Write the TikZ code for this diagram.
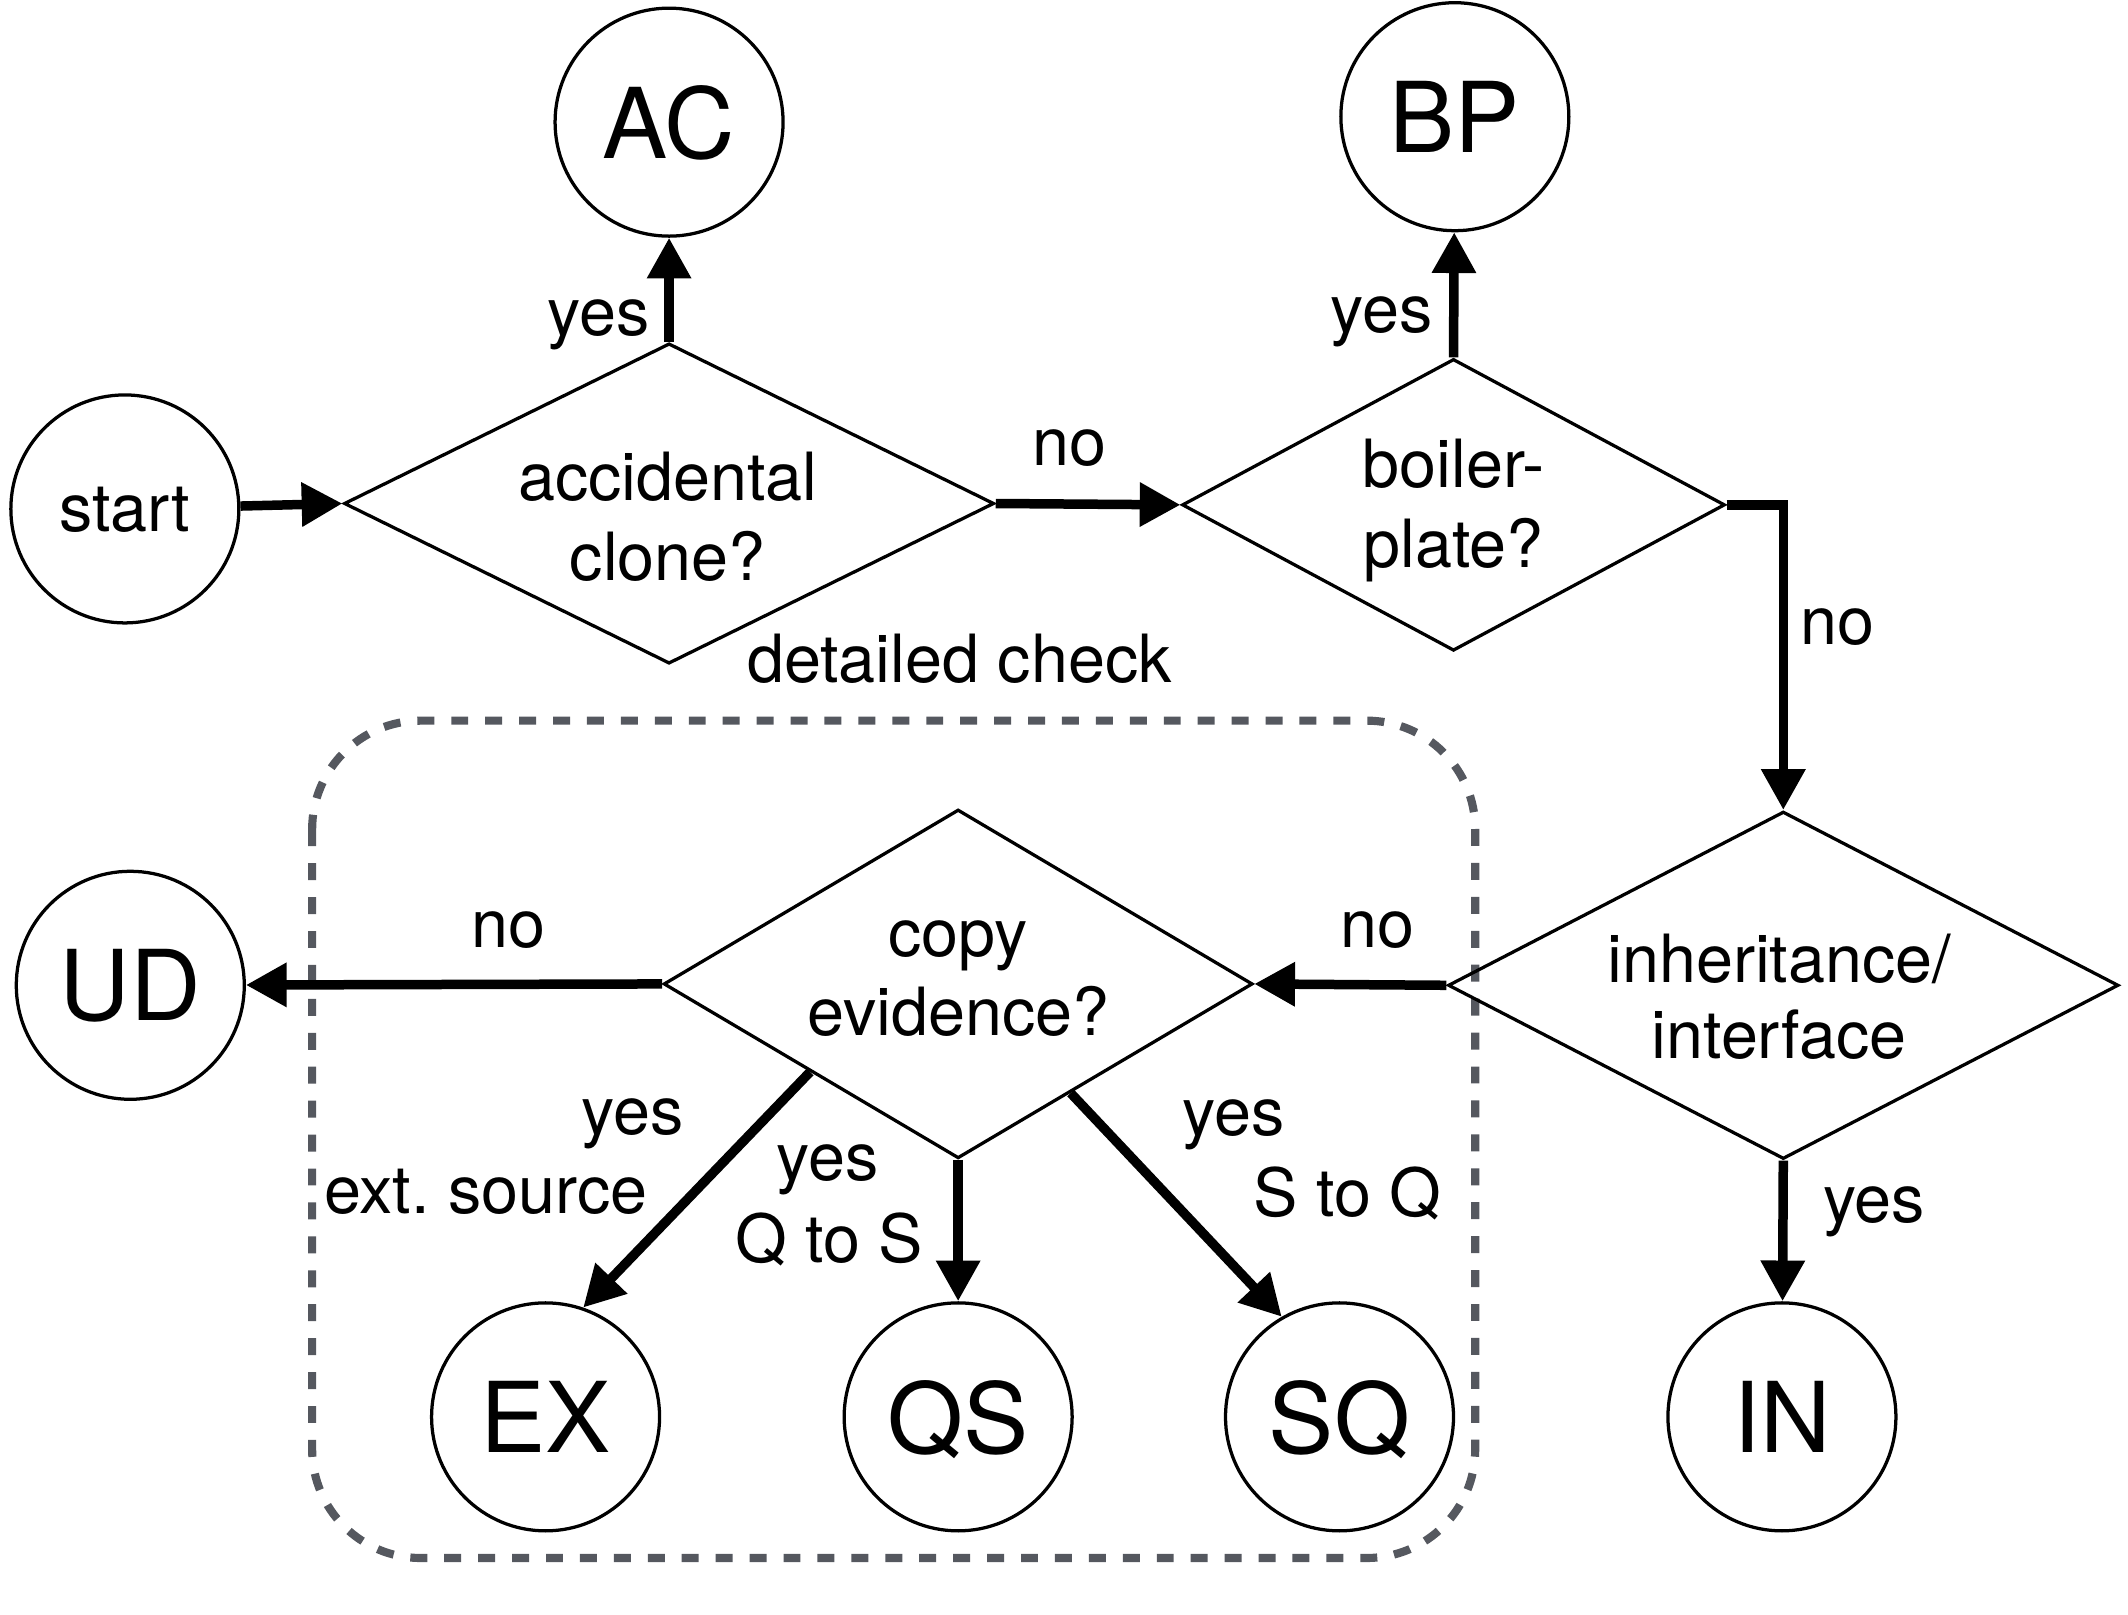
\documentclass[tikz,border=0pt]{standalone}
\usepackage{fontspec}
\setmainfont{TeX Gyre Heros}
\usetikzlibrary{arrows.meta,shapes.geometric,calc}
\definecolor{dashgray}{RGB}{85,88,95}
\frenchspacing
\begin{document}
\begin{tikzpicture}[x=1pt,y=-1pt,
  term/.style={circle,draw,line width=2.4pt,minimum size=168pt,inner sep=0pt,text depth=0pt,font=\fontsize{72}{72}\selectfont},
  startnode/.style={circle,draw,line width=2.4pt,minimum size=168pt,inner sep=0pt,text depth=0pt,font=\fontsize{49}{58}\selectfont},
  decision/.style={diamond,draw,line width=2.4pt,inner sep=0pt},
  dtext/.style={font=\fontsize{49}{58}\selectfont,align=center,anchor=base,inner sep=0pt},
  lbl/.style={font=\fontsize{49}{58}\selectfont,anchor=base,inner sep=0pt},
  flow/.style={line width=7pt,-{Triangle[length=30pt,width=31pt]}},
  dashbox/.style={draw=dashgray,line width=6pt,dash pattern=on 12.5pt off 12.5pt,rounded corners=80pt}
]
\useasboundingbox (0,0) rectangle (1568,1190);

% dashed group
\draw[dashbox] (230,531) rectangle (1087,1148);

% terminal nodes
\node[startnode] (start) at (92,375) {start};
\node[term] (ac) at (493,90) {AC};
\node[term] (bp) at (1072,86) {BP};
\node[term] (ud) at (96,726) {UD};
\node[term] (ex) at (402,1044) {EX};
\node[term] (qs) at (706,1044) {QS};
\node[term] (sq) at (987,1044) {SQ};
\node[term] (in) at (1313,1044) {IN};

% decisions
\node[decision,minimum width=479pt,minimum height=236pt] (d1) at (493,371) {};
\node[decision,minimum width=400pt,minimum height=215pt] (d2) at (1071,372) {};
\node[decision,minimum width=494pt,minimum height=256pt] (d3) at (1314,726) {};
\node[decision,minimum width=434pt,minimum height=257pt] (d4) at (706,725) {};

% decision texts
\node[dtext] (t1a) at (492,368.5) {accidental};
\node[dtext] (t1b) at (492,427.5) {clone?};
\node[dtext] (t2a) at (1071,359) {boiler-};
\node[dtext] (t2b) at (1071,418) {plate?};
\node[dtext] (t3a) at (1311,724) {inheritance/};
\node[dtext] (t3b) at (1311,780) {interface};
\node[dtext] (t4a) at (706,705) {copy};
\node[dtext] (t4b) at (706,763) {evidence?};

% coordinate for turn
\coordinate (turn) at (d2.east -| d3.north);

% connectors
\draw[flow] (start) -- (d1.west);
\draw[flow] (d1.north) -- (ac);
\draw[flow] (d1.east) -- (d2.west);
\draw[flow] (d2.north) -- (bp);
\draw[flow] (d2.east) -- (turn) -- (d3.north);
\draw[flow] (d3.west) -- (d4.east);
\draw[flow] (d4.west) -- (ud);
\draw[flow] ($(d4.west)!0.5!(d4.south)$) -- (ex.71);
\draw[flow] (d4.south) -- (qs);
\draw[flow] ($(d4.east)!0.62!(d4.south)$) -- (sq.120);
\draw[flow] (d3.south) -- (in);

% labels
\node[lbl] (l1) at (441,247) {yes};
\node[lbl] (l2) at (1018,245) {yes};
\node[lbl] (l3) at (788,343) {no};
\node[lbl] (l4) at (707,503) {detailed check};
\node[lbl] (l5) at (1354,475) {no};
\node[lbl] (l6) at (1015,698.5) {no};
\node[lbl] (l7) at (375,698.5) {no};
\node[lbl] (l8) at (466,836) {yes};
\node[lbl] (l9) at (358,894) {ext. source};
\node[lbl] (l10) at (610,870) {yes};
\node[lbl] (l11) at (611,930.5) {Q to S};
\node[lbl] (l12) at (909,837) {yes};
\node[lbl] (l13) at (993,896) {S to Q};
\node[lbl] (l14) at (1381,900.5) {yes};
\end{tikzpicture}
\end{document}
